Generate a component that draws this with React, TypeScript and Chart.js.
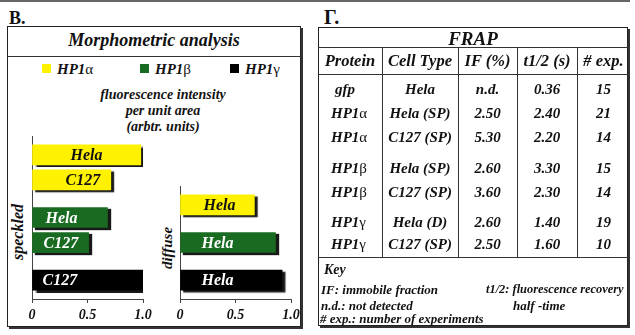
import React, { useEffect, useRef } from 'react';
import { Chart, registerables } from 'chart.js';

Chart.register(...registerables);

// ---------- data ----------
const proteins = ['HP1α', 'HP1β', 'HP1γ'];
const proteinColors = ['#fff200', '#1a6b22', '#000000'];
const proteinTextColors = ['#111111', '#ffffff', '#ffffff'];

const speckledCells = ['Hela', 'C127', 'Hela', 'C127', 'C127'];
const speckledProteins = ['HP1α', 'HP1α', 'HP1β', 'HP1β', 'HP1γ'];
const speckledValues = [0.98, 0.71, 0.68, 0.51, 1.0];

const diffuseCells = ['Hela', 'Hela', 'Hela'];
const diffuseProteins = ['HP1α', 'HP1β', 'HP1γ'];
const diffuseValues = [0.67, 0.86, 0.92];

const xTickValues = [0, 0.5, 1.0];
const xTickLabels = ['0', '0.5', '1.0'];

const frapHeaders = ['Protein', 'Cell Type', 'IF (%)', 't1/2 (s)', '# exp.'];
const frapProteins = ['gfp', 'HP1α', 'HP1α', 'HP1β', 'HP1β', 'HP1γ', 'HP1γ'];
const frapCellTypes = ['Hela', 'Hela (SP)', 'C127 (SP)', 'Hela (SP)', 'C127 (SP)', 'Hela (D)', 'C127 (SP)'];
const frapIF = ['n.d.', '2.50', '5.30', '2.60', '3.60', '2.60', '2.50'];
const frapHalfTime = ['0.36', '2.40', '2.20', '3.30', '2.30', '1.40', '1.60'];
const frapExperiments = ['15', '21', '14', '15', '14', '19', '10'];

// ---------- layout ----------
const FONT = '"Liberation Serif", "Times New Roman", serif';
const tableCols = [318, 382, 458, 517, 577, 630];
const tableRowY = [89, 113, 137, 168, 192, 222, 244];

const shadowPlugin = {
  id: 'barShadow',
  beforeDatasetsDraw(chart: any) {
    const c = chart.ctx;
    c.save();
    c.shadowColor = 'rgba(0,0,0,0.9)';
    c.shadowOffsetX = 3;
    c.shadowOffsetY = 2;
    c.shadowBlur = 1;
  },
  afterDatasetsDraw(chart: any) {
    chart.ctx.restore();
  },
};

const labelPlugin = {
  id: 'barLabels',
  afterDraw(chart: any, _args: any, opts: any) {
    const ctx = chart.ctx;
    const meta = chart.getDatasetMeta(0);
    const ds = chart.data.datasets[0];
    ctx.save();
    ctx.font = 'italic bold 16px "Liberation Serif", serif';
    ctx.textBaseline = 'middle';
    ctx.textAlign = 'left';
    let k = 0;
    meta.data.forEach((el: any, i: number) => {
      if (ds.data[i] == null) return;
      ctx.fillStyle = opts.textColors[i];
      ctx.fillText(chart.data.labels[i], el.base + opts.insets[k], el.y + 1);
      k++;
    });
    ctx.restore();
  },
};

type BarProps = {
  cells: string[];
  prots: string[];
  values: number[];
  insets: number[];
  left: number;
  top: number;
  width: number;
  height: number;
};

function HBarChart({ cells, prots, values, insets, left, top, width, height }: BarProps) {
  const ref = useRef<HTMLCanvasElement | null>(null);
  useEffect(() => {
    const labels: string[] = [''];
    const data: (number | null)[] = [null];
    const colors: string[] = ['rgba(0,0,0,0)'];
    const textColors: string[] = [''];
    const blank = () => {
      labels.push('');
      data.push(null);
      colors.push('rgba(0,0,0,0)');
      textColors.push('');
    };
    cells.forEach((c, i) => {
      if (i > 0) {
        const gap = prots[i] === prots[i - 1] ? 1 : 2;
        for (let g = 0; g < gap; g++) blank();
      }
      const p = proteins.indexOf(prots[i]);
      labels.push(c);
      data.push(values[i]);
      colors.push(proteinColors[p]);
      textColors.push(proteinTextColors[p]);
    });
    blank();

    const tickFont = { family: FONT, size: 14, style: 'italic' as const, weight: 'bold' as const };
    const chart = new Chart(ref.current as HTMLCanvasElement, {
      type: 'bar',
      data: {
        labels,
        datasets: [
          {
            label: 'fluorescence intensity per unit area',
            data,
            backgroundColor: colors,
            borderWidth: 0,
            barThickness: 20,
          },
        ],
      },
      options: {
        indexAxis: 'y',
        responsive: false,
        animation: false,
        devicePixelRatio: 1,
        layout: { padding: { left: 20, right: 29, top: 16, bottom: 0 } },
        plugins: {
          legend: { display: false },
          tooltip: { enabled: false },
          // @ts-ignore
          barLabels: { insets, textColors },
        },
        scales: {
          x: {
            type: 'linear',
            min: 0,
            max: 1,
            position: 'bottom',
            afterFit: (s: any) => {
              s.height = 36;
            },
            grid: { display: true, drawOnChartArea: false, drawTicks: true, tickLength: 4, color: '#444' },
            border: { display: true, color: '#444', width: 1 },
            ticks: {
              stepSize: 0.5,
              padding: 4,
              color: '#111',
              font: tickFont,
              maxRotation: 0,
              autoSkip: false,
              callback: (v: any) => {
                const k = xTickValues.indexOf(Number(v));
                return k >= 0 ? xTickLabels[k] : '';
              },
            },
          },
          y: {
            type: 'category',
            afterFit: (s: any) => {
              s.width = 0;
            },
            grid: { display: false, drawTicks: false },
            border: { display: true, color: '#444', width: 1 },
            ticks: { display: false },
          },
        },
      },
      plugins: [shadowPlugin, labelPlugin],
    });
    return () => chart.destroy();
  }, []);
  return (
    <canvas
      ref={ref}
      width={width}
      height={height}
      style={{ position: 'absolute', left, top, width, height }}
    />
  );
}

type TxtProps = {
  x: number;
  y: number;
  size: number;
  w?: number;
  align?: 'left' | 'center' | 'right';
  italic?: boolean;
  bold?: boolean;
  children: React.ReactNode;
};

function Txt({ x, y, size, w, align = 'left', italic = true, bold = true, children }: TxtProps) {
  return (
    <div
      style={{
        position: 'absolute',
        left: x,
        top: y - size / 2,
        width: w,
        height: size,
        lineHeight: size + 'px',
        fontSize: size,
        fontFamily: FONT,
        fontStyle: italic ? 'italic' : 'normal',
        fontWeight: bold ? 'bold' : 'normal',
        textAlign: align,
        whiteSpace: 'nowrap',
        color: '#111',
      }}
    >
      {children}
    </div>
  );
}

function Greek({ text }: { text: string }) {
  const last = text.slice(-1);
  if (/[α-ω]/.test(last)) {
    return (
      <>
        {text.slice(0, -1)}
        <span style={{ fontStyle: 'normal', fontWeight: 'normal' }}>{last}</span>
      </>
    );
  }
  return <>{text}</>;
}

function Rotated({ x, y, size, text }: { x: number; y: number; size: number; text: string }) {
  return (
    <div
      style={{
        position: 'absolute',
        left: x,
        top: y,
        transform: 'translate(-50%, -50%) rotate(-90deg)',
        fontFamily: FONT,
        fontStyle: 'italic',
        fontWeight: 'bold',
        fontSize: size,
        lineHeight: size + 'px',
        whiteSpace: 'nowrap',
        color: '#111',
      }}
    >
      {text}
    </div>
  );
}

const line = (left: number, top: number, width: number, height: number) => (
  <div style={{ position: 'absolute', left, top, width, height, background: '#333' }} />
);

export default function App() {
  const legendX = [42, 140, 230];
  const tableColumns = [frapProteins, frapCellTypes, frapIF, frapHalfTime, frapExperiments];
  return (
    <div
      style={{
        position: 'fixed',
        left: 0,
        top: 0,
        width: 635,
        height: 335,
        background: '#fff',
        overflow: 'hidden',
        fontFamily: FONT,
      }}
    >
      <div style={{ position: 'absolute', left: 0, top: 0, width: 630, height: 2, background: '#666' }} />

      {/* Panel B */}
      <Txt x={9} y={18} size={18} italic={false}>B.</Txt>
      <div
        style={{
          position: 'absolute',
          left: 7,
          top: 26,
          width: 294,
          height: 301,
          border: '1px solid #222',
          boxShadow: '2px 2px 0 #333',
          boxSizing: 'border-box',
        }}
      />
      {line(7, 56, 294, 1)}
      <Txt x={7} y={40} w={294} size={18} align="center">Morphometric analysis</Txt>
      {proteins.map((p, i) => (
        <React.Fragment key={p}>
          <div
            style={{
              position: 'absolute',
              left: legendX[i],
              top: 64,
              width: 9,
              height: 9,
              background: proteinColors[i],
            }}
          />
          <Txt x={legendX[i] + 15} y={69} size={15}>
            <Greek text={p} />
          </Txt>
        </React.Fragment>
      ))}
      <Txt x={63} y={95} w={200} size={14} align="center">fluorescence intensity</Txt>
      <Txt x={63} y={111} w={200} size={14} align="center">per unit area</Txt>
      <Txt x={63} y={127} w={200} size={14} align="center">(arbtr. units)</Txt>
      <Rotated x={17.5} y={232} size={16} text="speckled" />
      <Rotated x={166.5} y={248} size={15} text="diffuse" />

      <HBarChart
        cells={speckledCells}
        prots={speckledProteins}
        values={speckledValues}
        insets={[38, 33, 13, 11, 10]}
        left={12}
        top={120}
        width={160}
        height={215}
      />
      <HBarChart
        cells={diffuseCells}
        prots={diffuseProteins}
        values={diffuseValues}
        insets={[23, 21, 21]}
        left={160}
        top={170}
        width={160}
        height={165}
      />

      {/* Panel Γ */}
      <Txt x={324} y={17} size={20} italic={false}>Γ.</Txt>
      <div
        style={{
          position: 'absolute',
          left: 318,
          top: 27,
          width: 310,
          height: 299,
          border: '1px solid #222',
          boxShadow: '2px 2px 0 #333',
          boxSizing: 'border-box',
        }}
      />
      {line(318, 47, 310, 1)}
      {line(318, 74, 310, 1)}
      {line(318, 257, 310, 1)}
      {tableCols.slice(1, -1).map((x) => (
        <React.Fragment key={x}>{line(x, 47, 1, 210)}</React.Fragment>
      ))}
      <Txt x={318} y={38} w={310} size={19} align="center">FRAP</Txt>
      {frapHeaders.map((h, c) => (
        <Txt key={h} x={tableCols[c]} y={61} w={tableCols[c + 1] - tableCols[c]} size={16.5} align="center">
          {h}
        </Txt>
      ))}
      {tableColumns.map((col, c) =>
        col.map((v, r) =>
          c === 0 ? (
            <Txt key={c + '-' + r} x={v === 'gfp' ? 335 : 331} y={tableRowY[r]} size={15}>
              <Greek text={v} />
            </Txt>
          ) : (
            <Txt
              key={c + '-' + r}
              x={tableCols[c]}
              y={tableRowY[r]}
              w={tableCols[c + 1] - tableCols[c]}
              size={15}
              align="center"
            >
              {v}
            </Txt>
          )
        )
      )}
      <Txt x={324} y={270} size={14}>Key</Txt>
      <Txt x={321} y={289} size={13}>IF: immobile fraction</Txt>
      <Txt x={321} y={305} size={13}>n.d.: not detected</Txt>
      <Txt x={320} y={318} size={13}># exp.: number of experiments</Txt>
      <Txt x={486} y={289} size={12.4}>t1/2: fluorescence recovery</Txt>
      <Txt x={513} y={305} size={13}>half -time</Txt>
    </div>
  );
}
